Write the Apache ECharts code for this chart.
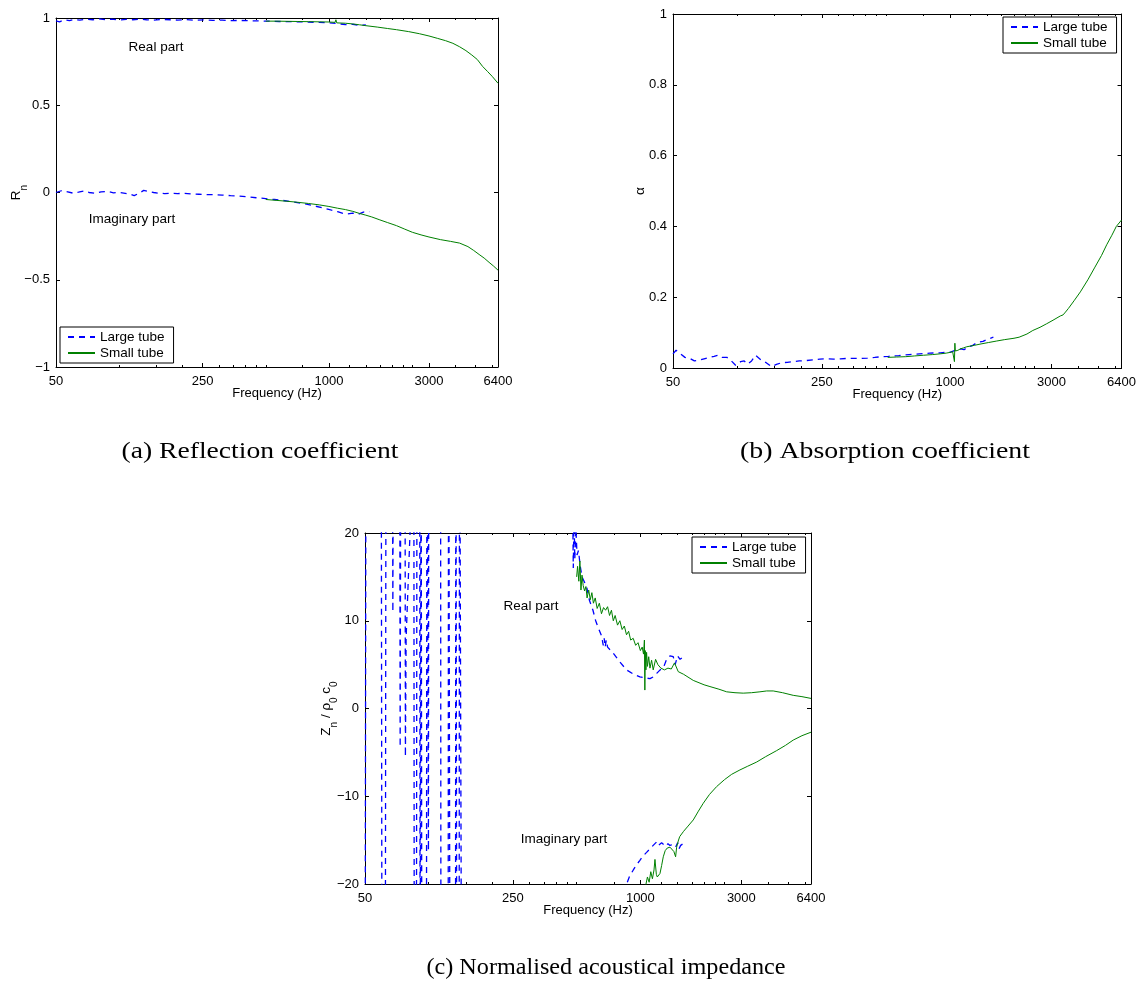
<!DOCTYPE html>
<html><head><meta charset="utf-8">
<script src="https://cdn.jsdelivr.net/npm/echarts@6/dist/echarts.min.js"></script>
<style>html,body{margin:0;padding:0;background:#fff}#c{width:1139px;height:983px}</style>
</head><body><div id="c"></div>
<script>
// ---------------- data ----------------
const freqTicks = [50, 250, 1000, 3000, 6400];
const minorFreqTicks = [100, 150, 200, 300, 350, 400, 450, 500, 750, 1250, 1500, 1750, 2000, 2250, 2500, 4000, 5000, 6000];

// (a) reflection coefficient – real part
const aReLargeF = [50,52,55,58,61,65,70,75,80,86,92,100,108,116,125,135,145,160,175,190,210,230,255,280,310,340,380,420,470,520,580,650,720,800,900,1000,1100,1200,1300,1400,1500];
const aReLargeV = [0.983,0.978,0.99,0.985,0.992,0.988,0.993,0.99,0.995,0.99,0.993,0.988,0.992,0.99,0.993,0.99,0.988,0.992,0.99,0.988,0.991,0.987,0.99,0.986,0.988,0.985,0.986,0.984,0.983,0.982,0.98,0.979,0.978,0.976,0.975,0.972,0.968,0.962,0.964,0.958,0.96];
const aReSmallF = [500,560,630,710,800,900,1000,1070,1080,1090,1200,1300,1400,1500,1700,1900,2100,2400,2700,3000,3300,3600,3900,4200,4500,4800,5100,5400,5700,6000,6400];
const aReSmallV = [0.982,0.982,0.981,0.98,0.979,0.978,0.977,0.975,0.99,0.972,0.97,0.966,0.961,0.956,0.948,0.94,0.933,0.922,0.91,0.897,0.883,0.87,0.855,0.835,0.813,0.788,0.762,0.723,0.694,0.666,0.626];
// (a) imaginary part
const aImLargeF = [50,53,56,60,64,68,72,77,82,88,94,100,107,113,118,124,131,138,146,155,165,175,190,205,220,240,260,285,310,340,370,410,450,500,550,600,660,720,790,860,940,1020,1100,1170,1230,1300,1380,1460,1560];
const aImLargeV = [0,0.01,0.005,-0.003,0.002,0.008,0,-0.005,0.004,0.006,-0.002,0,-0.005,-0.01,-0.018,-0.005,0.012,0.006,0,-0.004,-0.006,-0.004,-0.006,-0.005,-0.008,-0.01,-0.012,-0.012,-0.015,-0.018,-0.02,-0.025,-0.03,-0.035,-0.04,-0.045,-0.052,-0.06,-0.068,-0.078,-0.088,-0.1,-0.11,-0.12,-0.122,-0.118,-0.125,-0.112,-0.11];
const aImSmallF = [500,560,630,710,800,900,1000,1100,1200,1300,1400,1500,1600,1750,1900,2100,2300,2500,2750,3000,3400,3800,4200,4600,4900,5200,5500,5800,6100,6400];
const aImSmallV = [-0.04,-0.045,-0.05,-0.056,-0.063,-0.071,-0.08,-0.09,-0.098,-0.108,-0.12,-0.13,-0.14,-0.157,-0.172,-0.19,-0.21,-0.228,-0.243,-0.255,-0.27,-0.28,-0.29,-0.31,-0.332,-0.355,-0.376,-0.4,-0.422,-0.445];

// (b) absorption coefficient
const bLargeF = [50,51.7,54.2,56.9,60,63,66.6,70,74.4,78,81.7,85,89.6,94,98.4,104,108,112,117,122,130,137,145,153,162,172,182,196,211,228,245,264,284,306,329,355,382,410,443,478,514,575,643,720,804,900,1005,1060,1123,1165,1210,1280,1352,1430,1513,1600];
const bLargeV = [0.04,0.05,0.04,0.03,0.027,0.02,0.022,0.026,0.03,0.033,0.036,0.03,0.03,0.02,0.008,0.018,0.02,0.011,0.02,0.036,0.022,0.015,0.004,0.01,0.015,0.016,0.018,0.02,0.021,0.023,0.025,0.026,0.025,0.026,0.027,0.027,0.027,0.028,0.03,0.032,0.033,0.035,0.038,0.04,0.042,0.043,0.045,0.05,0.054,0.052,0.058,0.064,0.073,0.075,0.082,0.087];
const bSmallF = [510,560,620,680,750,830,900,960,1000,1030,1045,1050,1055,1060,1070,1090,1120,1160,1200,1300,1400,1520,1650,1800,2000,2113,2300,2451,2650,2846,3050,3300,3400,3490,3600,3830,4100,4444,4800,5155,5450,5764,6050,6400];
const bSmallV = [0.03,0.031,0.032,0.034,0.036,0.038,0.04,0.042,0.044,0.046,0.05,0.018,0.07,0.048,0.052,0.05,0.054,0.057,0.06,0.064,0.068,0.072,0.076,0.08,0.084,0.087,0.096,0.106,0.115,0.125,0.135,0.147,0.15,0.158,0.168,0.19,0.215,0.249,0.285,0.318,0.348,0.375,0.4,0.418];

// (c) normalised impedance – real part
const cReLargeF = [50,50.6,59.6,60.2,62.3,62.9,67.2,67.7,68.2,72.8,73.3,74.0,77.2,77.6,78.2,81.6,82.0,85,85.5,87,87.6,88.1,90.6,91.1,91.6,92.0,92.3,92.9,97.5,98.1,99.3,99.7,100.1,113.7,114.3,123.5,124.1,125.8,126.3,133.8,134.3,135.3,135.9,139.2,139.8,142.7,143.3,150,470,478,482,486,490,496,502,510,520,530,557,575,597,615,630,655,668,675,682,690,700,745,800,861,930,995,1050,1110,1150,1194,1240,1283,1330,1380,1430,1460,1500,1540,1595];
const cReLargeV = [-45,45,45,-45,-45,45,45,11,45,45,-4.4,45,45,-5.5,8,20,45,45,-45,-30,-19,45,45,-45,-45,45,45,-45,-45,45,45,-16.2,45,45,-45,-45,45,45,-45,-45,45,45,-45,-45,45,45,-45,null,45,25,16,22,17,20.5,17.5,18,16.2,15,13.9,12.3,11.2,10,9.3,8.3,7.2,8.0,7.0,7.8,7.0,6.3,5.3,4.4,3.9,3.6,3.5,3.4,3.6,4.0,4.4,4.6,5.6,6.0,5.9,5.0,6.0,5.6,5.9];
const cReSmallF = [500,505,512,518,524,530,537,545,553,560,570,580,590,600,612,625,640,655,670,685,700,715,730,745,760,780,800,820,840,860,880,900,925,950,975,1000,1020,1035,1045,1050,1055,1062,1070,1080,1095,1110,1130,1150,1180,1210,1250,1300,1350,1400,1450,1510,1600,1778,2000,2132,2350,2557,2800,3062,3350,3672,3950,4243,4700,5275,5800,6400];
const cReSmallV = [15,16.2,14.5,16.8,13.5,15.2,14,13.4,13.9,12.6,13.5,12.4,13.2,12,12.6,11.4,12,10.8,11.5,11.2,11.6,10.6,11.2,10,10.6,9.5,10,9,9.4,8.4,8.8,7.8,8,7.2,7.5,6.6,7,6.2,7.8,2.1,6.6,4.4,6.4,4.8,5.9,4.6,5.5,4.4,5.6,5,4.6,4.4,4.6,4.5,5.2,4.2,3.9,3.2,2.7,2.5,2.2,1.9,1.8,1.75,1.8,1.9,2,2,1.8,1.5,1.35,1.15];
// (c) imaginary part
const cImLargeF = [840,861,890,926,960,995,1030,1070,1110,1150,1194,1215,1238,1260,1283,1320,1350,1380,1420,1467,1500,1522,1550,1577,1595];
const cImLargeV = [-21,-20,-19.1,-18.4,-17.8,-17.3,-16.8,-16.4,-16,-15.6,-15.2,-15.6,-15.8,-15.3,-15.5,-15.7,-15.4,-15.6,-15.5,-15.8,-15.3,-16,-15.6,-15.5,-15.4];
const cImSmallF = [1050,1063,1080,1100,1120,1140,1160,1172,1190,1202,1220,1238,1260,1283,1310,1340,1380,1410,1440,1467,1484,1510,1534,1600,1680,1778,1880,1982,2120,2292,2500,2700,2954,3200,3545,3900,4404,4850,5275,5800,6400];
const cImSmallV = [-21,-20,-19.2,-19.8,-18.6,-19.4,-18.4,-17.2,-18.9,-19.2,-19,-18.8,-17.9,-16.9,-16.2,-15.9,-15.8,-16,-16.3,-16.9,-15.8,-15.1,-14.6,-14,-13.4,-12.7,-11.7,-10.8,-9.8,-8.9,-8.1,-7.5,-7,-6.6,-6.1,-5.5,-4.8,-4.2,-3.6,-3.1,-2.7];

const legendNames = ['Large tube', 'Small tube'];

// ---------------- layout / style ----------------
const FONT = '"Liberation Sans", Arial, Helvetica, sans-serif';
const SERIF = '"Liberation Serif", "DejaVu Serif", serif';
const BLUE = '#0000ff', GREEN = '#008000';
const grids = [
  {left: 56, top: 18, width: 442, height: 349},
  {left: 673, top: 14, width: 449, height: 354},
  {left: 365, top: 533, width: 446, height: 351}
];
const zip = (f, v) => f.map((x, i) => [x, v[i]]);
const fmt = v => { const n = parseFloat(v.toFixed(3)); return String(n).replace('-', '\u2212'); };
const axLine = {show: true, onZero: false, lineStyle: {color: '#000', width: 1}};

function xAxes(g) {
  const base = {gridIndex: g, type: 'log', logBase: 10, min: 50, max: 6400,
    splitLine: {show: false}, minorTick: {show: false}, minorSplitLine: {show: false}, silent: true};
  return [
    Object.assign({}, base, {position: 'bottom', axisLine: axLine,
      axisTick: {show: true, inside: true, length: 4, customValues: freqTicks, lineStyle: {color: '#000'}},
      axisLabel: {show: true, customValues: freqTicks, margin: 8, color: '#000', fontSize: 13, fontFamily: FONT,
        showMinLabel: true, showMaxLabel: true, hideOverlap: false, formatter: v => String(Math.round(v))},
      name: 'Frequency (Hz)', nameLocation: 'middle', nameGap: 20, nameMoveOverlap: false,
      nameTextStyle: {color: '#000', fontSize: 13, fontFamily: FONT}}),
    Object.assign({}, base, {position: 'bottom', axisLine: {show: false, onZero: false},
      axisTick: {show: true, inside: true, length: 2, customValues: minorFreqTicks, lineStyle: {color: '#000'}},
      axisLabel: {show: false}}),
    Object.assign({}, base, {position: 'top', axisLine: axLine,
      axisTick: {show: true, inside: true, length: 4, customValues: freqTicks, lineStyle: {color: '#000'}},
      axisLabel: {show: false}}),
    Object.assign({}, base, {position: 'top', axisLine: {show: false, onZero: false},
      axisTick: {show: true, inside: true, length: 2, customValues: minorFreqTicks, lineStyle: {color: '#000'}},
      axisLabel: {show: false}})
  ];
}
const rich = {
  b: {fontSize: 13.5, fontFamily: FONT, color: '#000', lineHeight: 20, verticalAlign: 'top'},
  s: {fontSize: 10, fontFamily: FONT, color: '#000', lineHeight: 12, verticalAlign: 'bottom'}
};
function yAxes(g, min, max, interval, name, nameGap) {
  const base = {gridIndex: g, type: 'value', min, max, interval, splitLine: {show: false}, silent: true};
  return [
    Object.assign({}, base, {position: 'left', axisLine: axLine,
      axisTick: {show: true, inside: true, length: 4, lineStyle: {color: '#000'}},
      axisLabel: {show: true, margin: 6, color: '#000', fontSize: 13, fontFamily: FONT, formatter: fmt},
      name, nameLocation: 'middle', nameRotate: 90, nameGap, nameMoveOverlap: false, nameTextStyle: {rich}}),
    Object.assign({}, base, {position: 'right', axisLine: axLine,
      axisTick: {show: true, inside: true, length: 4, lineStyle: {color: '#000'}},
      axisLabel: {show: false}})
  ];
}
function ser(name, g, f, v) {
  const large = name === legendNames[0];
  const c = large ? BLUE : GREEN;
  return {type: 'line', name, xAxisIndex: 4 * g, yAxisIndex: 2 * g, data: zip(f, v),
    symbol: 'none', showSymbol: false, clip: true, connectNulls: false, silent: true,
    lineStyle: {color: c, width: large ? 1.3 : 1, type: large ? [6, 5] : 'solid'}, itemStyle: {color: c},
    emphasis: {disabled: true}};
}
function legend(left, top) {
  return {show: true, left, top, orient: 'vertical', data: legendNames, selectedMode: false,
    backgroundColor: '#fff', borderColor: '#000', borderWidth: 1, borderRadius: 0,
    padding: [3, 9, 3, 7], itemGap: 2, itemWidth: 27, itemHeight: 14,
    itemStyle: {opacity: 0, color: 'rgba(0,0,0,0)', borderWidth: 0},
    textStyle: {fontSize: 13.5, color: '#000', fontFamily: FONT}};
}

// caption width matching
const ctx = document.createElement('canvas').getContext('2d');
function caption(text, cx, cy, targetW) {
  const fs = 24;
  ctx.font = fs + 'px ' + SERIF;
  const w = ctx.measureText(text).width;
  return {type: 'text', x: cx, y: cy, scaleX: targetW / w, silent: true,
    style: {text, fontSize: fs, fontFamily: SERIF, fill: '#000', align: 'center', verticalAlign: 'middle'}};
}
function note(text, cx, cy) {
  return {type: 'text', x: cx, y: cy, silent: true,
    style: {text, fontSize: 13.5, fontFamily: FONT, fill: '#000', align: 'center', verticalAlign: 'middle'}};
}

const chart = echarts.init(document.getElementById('c'), null, {renderer: 'canvas'});
chart.setOption({
  animation: false,
  backgroundColor: '#fff',
  grid: grids,
  xAxis: [].concat(xAxes(0), xAxes(1), xAxes(2)),
  yAxis: [].concat(
    yAxes(0, -1, 1, 0.5, '{b|R}{s|n}', 27),
    yAxes(1, 0, 1, 0.2, '{b|\u03b1}', 20),
    yAxes(2, -20, 20, 10, '{b|Z}{s|n}{b| / \u03c1}{s|0}{b| c}{s|0}', 26)),
  legend: [legend(60, 327), legend(1003, 17), legend(692, 537)],
  series: [
    ser('Large tube', 0, aReLargeF, aReLargeV),
    ser('Large tube', 0, aImLargeF, aImLargeV),
    ser('Small tube', 0, aReSmallF, aReSmallV),
    ser('Small tube', 0, aImSmallF, aImSmallV),
    ser('Large tube', 1, bLargeF, bLargeV),
    ser('Small tube', 1, bSmallF, bSmallV),
    ser('Large tube', 2, cReLargeF, cReLargeV),
    ser('Large tube', 2, cImLargeF, cImLargeV),
    ser('Small tube', 2, cReSmallF, cReSmallV),
    ser('Small tube', 2, cImSmallF, cImSmallV)
  ],
  graphic: [
    note('Real part', 156, 47),
    note('Imaginary part', 132, 219),
    note('Real part', 531, 606),
    note('Imaginary part', 564, 839),
    caption('(a) Reflection coefficient', 260, 452, 277),
    caption('(b) Absorption coefficient', 885, 452, 290),
    caption('(c) Normalised acoustical impedance', 606, 968, 359)
  ]
});
</script></body></html>
